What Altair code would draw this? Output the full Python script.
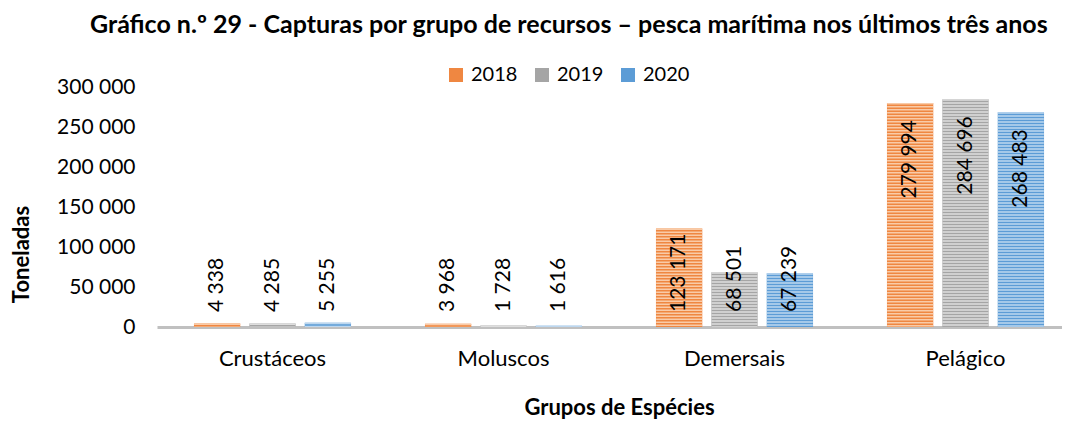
import altair as alt
import pandas as pd

categories = ["Crustáceos", "Moluscos", "Demersais", "Pelágico"]
years = ["2018", "2019", "2020"]
v2018 = [4338, 3968, 123171, 279994]
v2019 = [4285, 1728, 68501, 284696]
v2020 = [5255, 1616, 67239, 268483]
y_ticks = [0, 50000, 100000, 150000, 200000, 250000, 300000]

dark_colors = ["#EF8741", "#A5A5A5", "#5C9CD6"]
light_colors = ["#F9CBA8", "#DEDEDE", "#BDD7EF"]

series = {"2018": v2018, "2019": v2019, "2020": v2020}
rows = []
for yr in years:
    for c, v in zip(categories, series[yr]):
        rows.append({"cat": c, "year": yr, "value": v, "zero": 0,
                     "label": f"{v:,}".replace(",", " ")})
df = pd.DataFrame(rows)

Y_MAX = 300000
PLOT_H = 240
FONT = "Lato"

x_enc = alt.X("cat:N", sort=categories,
              scale=alt.Scale(range=[0, 924], paddingInner=0.32, paddingOuter=0.16),
              axis=alt.Axis(title="Grupos de Espécies", labelAngle=0, labelFontSize=22,
                            labelFont=FONT, labelColor="#000000", labelPadding=21,
                            ticks=False, tickSize=0, domainColor="#C0C0C0", domainWidth=3,
                            titleFont=FONT, titleFontSize=22, titleFontWeight="bold",
                            titleColor="#000000", titleY=80, titleBaseline="middle"))
xo_enc = alt.XOffset("year:N", sort=years, scale=alt.Scale(paddingInner=0.164, paddingOuter=0))
y_scale = alt.Scale(domain=[0, Y_MAX], nice=False)
y_axis = alt.Axis(values=y_ticks, grid=False, domain=False, ticks=False, tickSize=0,
                  labelOverlap=False, labelFlush=False, labelBound=False,
                  labelExpr="replace(format(datum.value, ','), ',', ' ')",
                  labelFont=FONT, labelFontSize=21, labelColor="#000000",
                  labelPadding=22,
                  title="Toneladas", titleFont=FONT, titleFontSize=22,
                  titleFontWeight="bold", titleColor="#000000",
                  titleAngle=270, titleX=-136, titleY=167,
                  titleAlign="center", titleBaseline="middle")
y_enc = alt.Y("value:Q", scale=y_scale, axis=y_axis)
y_zero = alt.Y("zero:Q", scale=y_scale, axis=y_axis)

base = alt.Chart(df)

bars = base.mark_bar().encode(
    x=x_enc, xOffset=xo_enc, y=y_enc,
    color=alt.Color("year:N", sort=years,
                    scale=alt.Scale(domain=years, range=dark_colors),
                    legend=alt.Legend(title=None, orient="none", direction="horizontal",
                                      legendX=289, legendY=-22, symbolType="square",
                                      symbolSize=196, symbolStrokeWidth=0,
                                      labelFont=FONT, labelFontSize=20, labelColor="#000000",
                                      labelOffset=5, columnPadding=14)),
)

# light horizontal stripes drawn as a dashed, bar-wide rule over each bar
stripes = base.mark_rule(strokeWidth=46, strokeDash=[1.5, 1.5], strokeCap="butt").encode(
    x=x_enc, xOffset=xo_enc, y=y_enc, y2="zero:Q",
    stroke=alt.Stroke("year:N", sort=years,
                      scale=alt.Scale(domain=years, range=light_colors), legend=None),
)

low_text = base.transform_filter("datum.value < 200000").mark_text(
    angle=270, align="left", baseline="middle", dx=15, font=FONT, fontSize=21, color="#000000"
).encode(x=x_enc, xOffset=xo_enc, y=y_zero, text="label:N")

high_text = base.transform_filter("datum.value >= 200000").mark_text(
    angle=270, align="right", baseline="middle", dx=-17, font=FONT, fontSize=21, color="#000000"
).encode(x=x_enc, xOffset=xo_enc, y=y_enc, text="label:N")

chart = alt.layer(bars, stripes, low_text, high_text).properties(
    width=905, height=PLOT_H,
    autosize=alt.AutoSizeParams(type="none"),
    padding={"left": 149, "top": 79, "right": 0, "bottom": 92},
    title=alt.TitleParams(
        "Gráfico n.º 29 - Capturas por grupo de recursos – pesca marítima nos últimos três anos",
        font=FONT, fontSize=25, fontWeight="bold", color="#000000",
        anchor="start", frame="group", dx=-67, offset=27),
).configure_view(stroke=None)

chart.save("out.html", embed_options={"renderer": "svg", "actions": False})
